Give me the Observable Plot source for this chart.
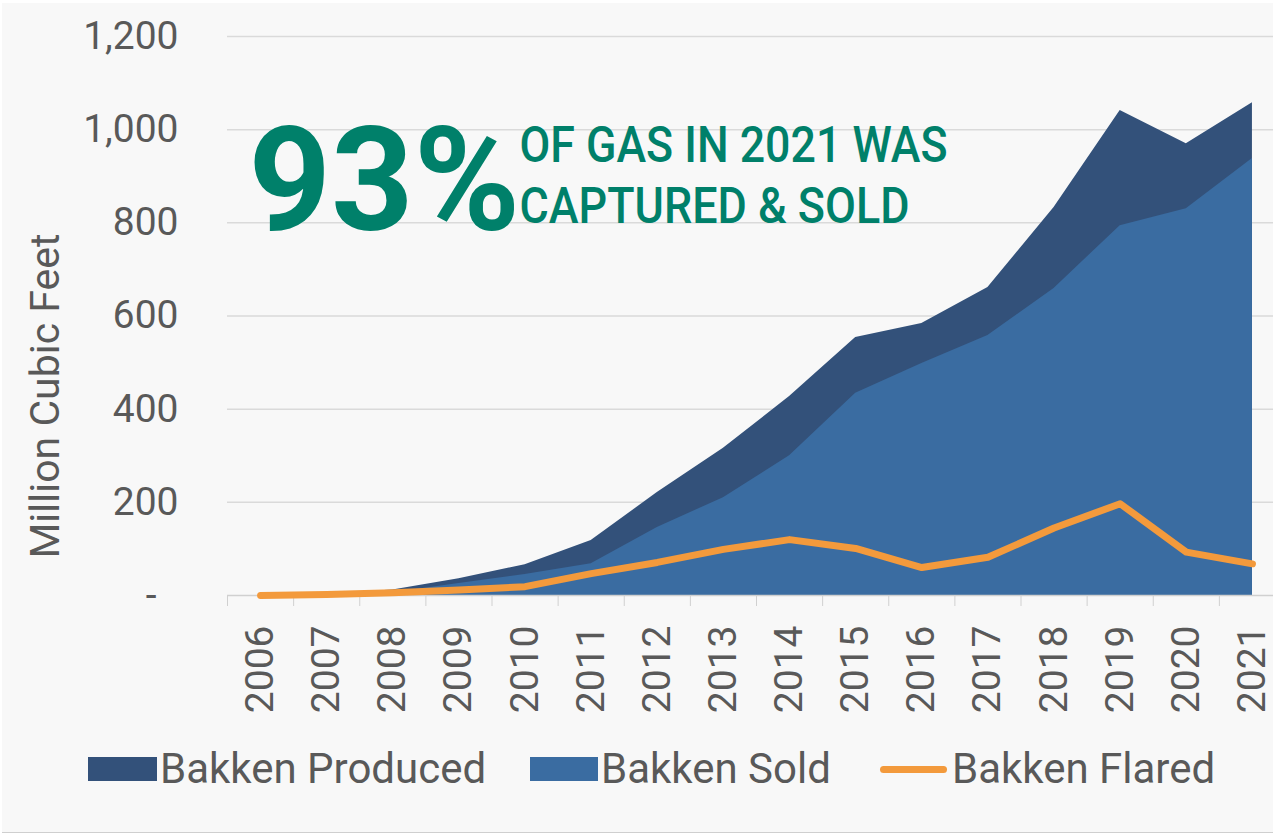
<!DOCTYPE html>
<html><head><meta charset="utf-8">
<script src="https://cdn.jsdelivr.net/npm/d3@7"></script>
<script src="https://cdn.jsdelivr.net/npm/@observablehq/plot@0.6"></script>
<style>
html,body{margin:0;padding:0;background:#fff;}
#wrap{position:relative;width:1273px;height:835px;overflow:hidden;font-family:Roboto,sans-serif;}
#panel{position:absolute;left:2px;top:3px;right:0;bottom:2px;background:#f8f8f8;border-bottom:1px solid #cfcfcf;}
#chart{position:absolute;left:0;top:0;}
#legend{position:absolute;left:0;top:735px;width:1273px;height:100px;}
.sw{position:absolute;}
.lt{position:absolute;top:13px;font-size:42px;line-height:42px;color:#595959;white-space:nowrap;}
</style>
</head><body>
<div id="wrap"><div id="panel"></div><div id="chart"></div><div id="legend"></div></div>
<script>
const years = [2006,2007,2008,2009,2010,2011,2012,2013,2014,2015,2016,2017,2018,2019,2020,2021];
const produced = [1,3,12,36,66,118,221,316,427,554,584,661,833,1041,970,1058];
const sold = [0,1,6,26,45,68,146,210,300,434,498,558,659,794,830,938];
const flared = [0,2,6,12,19,47,71,99,120,101,60,82,145,197,93,68];
const yTicks = [0,200,400,600,800,1000,1200];
const seriesNames = ["Bakken Produced","Bakken Sold","Bakken Flared"];
const colors = ["#33517a","#3a6ca1","#f39a3c"];
const headline = "93%";
const noteLines = ["OF GAS IN 2021 WAS","CAPTURED & SOLD"];
const yLabel = "Million Cubic Feet";

const data = years.map((year,i)=>({year, produced: produced[i], sold: sold[i], flared: flared[i]}));
const boundaries = [...years.map(y=>y-0.5), years[years.length-1]+0.5];

const chart = Plot.plot({
  width: 1273, height: 735,
  marginLeft: 227, marginRight: 0, marginTop: 36, marginBottom: 140,
  style: {background:"transparent", fontFamily:"Roboto, sans-serif", overflow:"visible"},
  x: {type:"linear", domain:[2005.5, 2021.5], range:[227, 1285]},
  y: {domain:[0,1200]},
  marks: [
    Plot.gridY(yTicks.filter(d=>d>0), {stroke:"#dadada", strokeOpacity:1, strokeWidth:1.5}),
    Plot.areaY(data, {x:"year", y:"produced", fill:colors[0]}),
    Plot.areaY(data, {x:"year", y:"sold", fill:colors[1]}),
    Plot.ruleY([0], {stroke:"#d0d0d0", strokeWidth:1.5}),
    Plot.axisX({ticks: boundaries, tickSize: 11, tickFormat: () => "", stroke:"#d0d0d0", label:null}),
    Plot.axisX({ticks: years, tickSize: 0, tickPadding: 30, tickRotate: -90, fontSize: 39, tickFormat: d => String(d), color:"#595959", label:null}),
    Plot.axisY({ticks: yTicks, tickSize: 0, tickPadding: 49, fontSize: 39, tickFormat: d => d===0 ? "-\u2007" : d3.format(",")(d), color:"#595959", label:null}),
    Plot.text([yLabel], {frameAnchor:"left", textAnchor:"middle", dx:-182, dy:80, rotate:-90, fontSize:41, fill:"#595959"}),
    Plot.line(data, {x:"year", y:"flared", stroke:colors[2], strokeWidth:7, strokeLinecap:"round", strokeLinejoin:"round"}),
    Plot.text([headline], {frameAnchor:"top-left", dx:21, dy:91, lineAnchor:"top", textAnchor:"start", fontSize:144, fontWeight:700, fill:"#00806a"}),
    Plot.text([noteLines[0]], {frameAnchor:"top-left", dx:292, dy:90, lineAnchor:"top", textAnchor:"start", fontSize:50, fontWeight:500, fill:"#00806a"}),
    Plot.text([noteLines[1]], {frameAnchor:"top-left", dx:292, dy:151, lineAnchor:"top", textAnchor:"start", fontSize:50, fontWeight:500, fill:"#00806a"})
  ]
});
const lengths = {"OF GAS IN 2021 WAS": 428, "CAPTURED & SOLD": 390};
d3.select(chart).selectAll("text").each(function(){
  const t = this.textContent;
  if (lengths[t]) d3.select(this).attr("textLength", lengths[t]).attr("lengthAdjust","spacingAndGlyphs");
});
document.getElementById("chart").appendChild(chart);

const legend = document.getElementById("legend");
const items = [
  {swLeft:88, swW:69, textLeft:160, kind:"box"},
  {swLeft:530, swW:68, textLeft:601, kind:"box"},
  {swLeft:880, swW:67, textLeft:952, kind:"line"}
];
items.forEach((it,i)=>{
  const sw = document.createElement("div");
  sw.className = "sw";
  sw.style.left = it.swLeft+"px";
  sw.style.width = it.swW+"px";
  sw.style.background = colors[i];
  if (it.kind==="box"){ sw.style.top="22px"; sw.style.height="24px"; }
  else { sw.style.top="31px"; sw.style.height="7px"; sw.style.borderRadius="4px"; }
  legend.appendChild(sw);
  const tx = document.createElement("div");
  tx.className = "lt";
  tx.style.left = it.textLeft+"px";
  tx.textContent = seriesNames[i];
  legend.appendChild(tx);
});
</script>
</body></html>
